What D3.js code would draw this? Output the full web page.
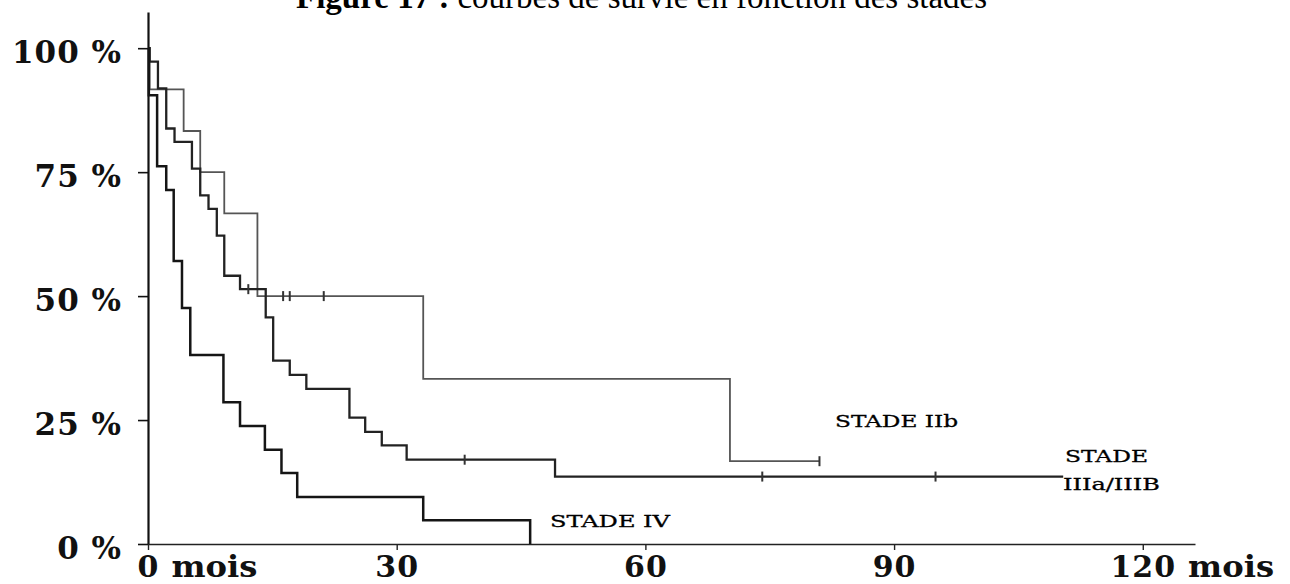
<!DOCTYPE html>
<html>
<head>
<meta charset="utf-8">
<script src="https://cdn.jsdelivr.net/npm/d3@7"></script>
<style>
  html, body { margin: 0; padding: 0; background: #ffffff; }
  svg { display: block; }
</style>
</head>
<body>
<svg id="chart" width="1290" height="584"></svg>
<script>
// ---------- DATA ----------
const titleBold = "Figure 17 :";
const titleRest = "courbes de survie en fonction des stades";

const monthTicks = [0, 30, 60, 90, 120];
const monthUnit = "mois";
const pctTicks = [0, 25, 50, 75, 100];

// STADE IIb
const stageIIbTimes = [0, 0.2, 4.3, 6.3, 9.2, 13.2, 33.2, 70.2, 81.0];
const stageIIbSurv  = [100, 91.7, 83.3, 75.0, 66.7, 50.0, 33.3, 16.7, 16.7];
const stageIIbCensorT = [16.3, 17.1, 21.2, 81.0];
const stageIIbCensorS = [50.0, 50.0, 50.0, 16.7];

// STADE IIIa/IIIB
const stageIIITimes = [0, 0.2, 1.2, 2.2, 3.2, 5.3, 6.3, 7.3, 8.3, 9.2, 11.1, 14.2, 15.1, 17.1, 19.1, 24.3, 26.2, 28.2, 31.2, 49.1, 110.4];
const stageIIISurv  = [100, 97.3, 91.9, 83.8, 81.1, 75.7, 70.3, 67.6, 62.2, 54.1, 51.4, 45.7, 37.0, 34.1, 31.3, 25.5, 22.6, 19.9, 17.0, 13.6, 13.6];
const stageIIICensorT = [12.1, 38.2, 74.1, 95.0];
const stageIIICensorS = [51.4, 17.0, 13.6, 13.6];

// STADE IV
const stageIVTimes = [0, 0.1, 1.1, 2.2, 3.1, 4.1, 5.1, 9.1, 11.1, 14.1, 16.1, 18.0, 33.2, 46.1];
const stageIVSurv  = [100, 90.5, 76.2, 71.4, 57.1, 47.6, 38.1, 28.6, 23.8, 19.0, 14.3, 9.5, 4.8, 0];

const seriesLabels = ["STADE IIb", "STADE", "IIIa/IIIB", "STADE IV"];

// ---------- LAYOUT ----------
const svg = d3.select("#chart");
const x = d3.scaleLinear().domain([0, 126.3]).range([148, 1195]);
const y = d3.scaleLinear().domain([0, 107.3]).range([544, 12]);

const tickFont = "'DejaVu Serif', serif";
const labelFont = "'DejaVu Serif', serif";

// Title (cut at the top, as in the scan)
const title = svg.append("text")
  .attr("x", 296).attr("y", 8)
  .attr("font-family", "'Liberation Serif', 'Times New Roman', serif")
  .attr("font-size", 33)
  .attr("fill", "#000");
title.append("tspan").attr("font-weight", "bold").text(titleBold);
title.append("tspan").attr("dx", 8).text(titleRest);

// Y axis
const yAxis = svg.append("g")
  .attr("transform", `translate(${x(0)},0)`)
  .call(d3.axisLeft(y).tickValues(pctTicks).tickFormat(d => d + " %")
        .tickSize(10).tickSizeOuter(0).tickPadding(16));
yAxis.select(".domain").attr("stroke", "#111").attr("stroke-width", 2.2);
yAxis.selectAll(".tick line").attr("stroke", "#111").attr("stroke-width", 1.6);
yAxis.selectAll(".tick text")
  .attr("font-family", tickFont).attr("font-weight", "bold")
  .attr("font-size", 31).attr("fill", "#111")
  .attr("letter-spacing", 1)
  .attr("dy", "0.46em");

// X axis
const xAxis = svg.append("g")
  .attr("transform", `translate(0,${y(0)})`)
  .call(d3.axisBottom(x).tickValues(monthTicks).tickFormat(d3.format("d"))
        .tickSize(6).tickSizeOuter(0).tickPadding(6));
xAxis.select(".domain").attr("stroke", "#222").attr("stroke-width", 1.6);
xAxis.selectAll(".tick line").attr("stroke", "#222").attr("stroke-width", 1.4);
xAxis.selectAll(".tick text")
  .attr("font-family", tickFont).attr("font-weight", "bold")
  .attr("font-size", 30).attr("fill", "#111")
  .attr("letter-spacing", 1);
xAxis.selectAll(".tick").filter(d => d === monthTicks[0] || d === monthTicks[monthTicks.length - 1])
  .each(function() {
    const g = d3.select(this);
    const t = g.select("text");
    const w = t.node().getComputedTextLength();
    g.append("text")
      .attr("x", w / 2 + 12)
      .attr("y", t.attr("y"))
      .attr("dy", t.attr("dy"))
      .attr("text-anchor", "start")
      .attr("font-family", tickFont).attr("font-weight", "bold")
      .attr("font-size", 30).attr("fill", "#111")
      .attr("textLength", 86).attr("lengthAdjust", "spacingAndGlyphs")
      .text(monthUnit);
  });

// Curves
const line = d3.line().x(d => x(d[0])).y(d => y(d[1])).curve(d3.curveStepAfter);
function drawCurve(times, surv, color, width) {
  const pts = d3.zip(times, surv);
  svg.append("path").datum(pts)
    .attr("d", line)
    .attr("fill", "none")
    .attr("stroke", color)
    .attr("stroke-width", width)
    .attr("stroke-linejoin", "miter");
}
function drawCensor(times, surv, color, width) {
  svg.append("g").selectAll("line")
    .data(d3.zip(times, surv))
    .join("line")
    .attr("x1", d => x(d[0])).attr("x2", d => x(d[0]))
    .attr("y1", d => y(d[1]) - 5).attr("y2", d => y(d[1]) + 5)
    .attr("stroke", color).attr("stroke-width", width);
}

drawCurve(stageIIbTimes, stageIIbSurv, "#555", 1.8);
drawCensor(stageIIbCensorT, stageIIbCensorS, "#333", 2);
drawCurve(stageIIITimes, stageIIISurv, "#222", 2.3);
drawCensor(stageIIICensorT, stageIIICensorS, "#333", 2);
drawCurve(stageIVTimes, stageIVSurv, "#151515", 2.5);

// Series labels
const lab = [
  { t: seriesLabels[0], x: 835, y: 427, w: 123 },
  { t: seriesLabels[1], x: 1065, y: 462, w: 83 },
  { t: seriesLabels[2], x: 1063, y: 490, w: 97 },
  { t: seriesLabels[3], x: 550, y: 527, w: 120 }
];
svg.append("g").selectAll("text").data(lab).join("text")
  .attr("x", d => d.x).attr("y", d => d.y)
  .attr("font-family", labelFont).attr("font-size", 17)
  .attr("fill", "#000")
  .attr("stroke", "#000").attr("stroke-width", 0.3)
  .attr("textLength", d => d.w).attr("lengthAdjust", "spacingAndGlyphs")
  .text(d => d.t);
</script>
</body>
</html>
